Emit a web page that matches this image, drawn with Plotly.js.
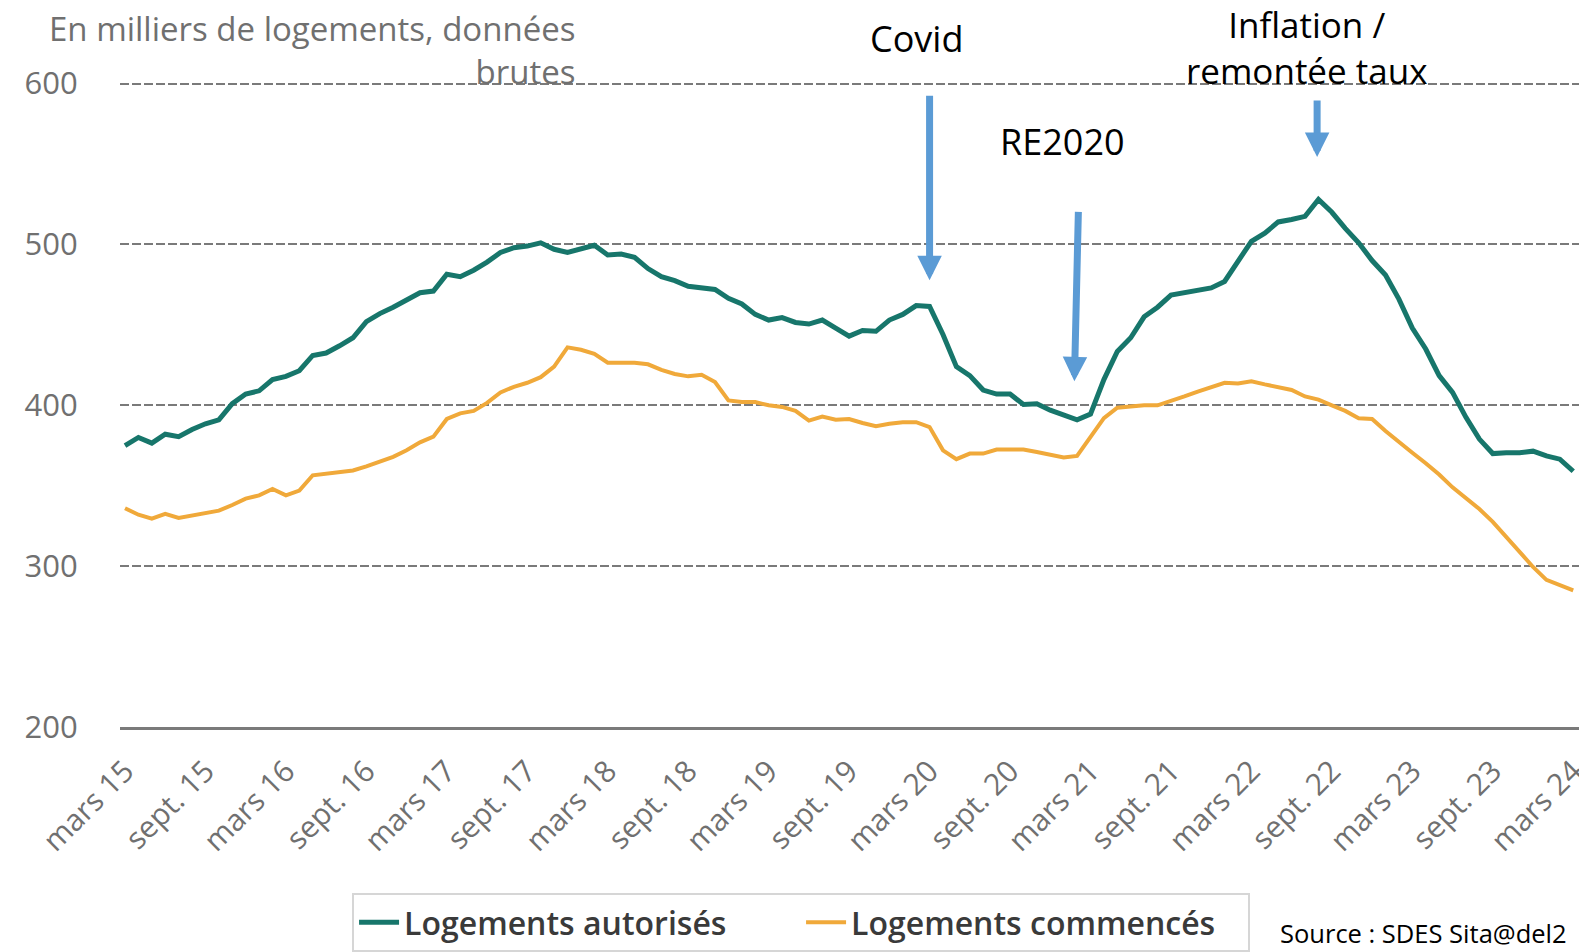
<!DOCTYPE html>
<html>
<head>
<meta charset="utf-8">
<script src="https://cdn.plot.ly/plotly-3.0.1.min.js"></script>
<style>
  html, body { margin: 0; padding: 0; background: #ffffff; }
  #chart { width: 1579px; height: 952px; }
</style>
</head>
<body>
<div id="chart"></div>
<script>
// ---- Data (en milliers de logements, cumul 12 mois, données brutes) ----
const monthNames = ['janv.', 'févr.', 'mars', 'avr.', 'mai', 'juin', 'juil.', 'août', 'sept.', 'oct.', 'nov.', 'déc.'];
const startYear = 2015;
const startMonth = 2; // mars
const nMonths = 109;  // mars 15 -> mars 24

const tickLabels = ['mars 15', 'sept. 15', 'mars 16', 'sept. 16', 'mars 17', 'sept. 17', 'mars 18', 'sept. 18',
  'mars 19', 'sept. 19', 'mars 20', 'sept. 20', 'mars 21', 'sept. 21', 'mars 22', 'sept. 22', 'mars 23',
  'sept. 23', 'mars 24'];

const autorises = [
  375, 380, 376.5, 382, 380.5, 385, 388.5, 391, 401, 407,
  409, 416, 418, 421.5, 431, 432.5, 437, 442, 452, 457,
  461, 465.5, 470, 471, 481.5, 480, 484, 489, 495, 498,
  499, 501, 497, 495, 497.5, 499.5, 493.5, 494, 492, 485,
  480, 477.5, 474, 473, 472, 466.5, 463, 456.5, 453, 454.5,
  451.5, 450.5, 453, 448, 443, 446.5, 446, 453, 456.5, 462,
  461.5, 444, 424, 418.5, 409.5, 407, 407, 400.5, 401, 397,
  394, 391, 394.5, 416, 433.5, 442, 455, 461, 468.5, 470,
  471, 473, 477, 489.5, 502, 507, 514, 515.5, 517.5, 528,
  520, 510, 501, 490, 481, 466, 448, 435, 418.5, 408,
  392.5, 379, 370, 370.5, 370.5, 371.5, 368.5, 366.5, 359
];

const commences = [
  336, 332, 329.5, 332.5, 330, 331.5, 333, 334.5, 338, 342,
  344, 348, 344, 347, 356.5, 357.5, 358, 359.5, 362, 365,
  368, 372, 377, 380.5, 391.5, 395, 396.5, 401.5, 408, 411.5,
  414, 417.5, 424, 436, 434.5, 432, 426.5, 426.5, 426.5, 425.5,
  422, 419.5, 418, 419, 414.5, 403, 402, 402, 400, 399,
  396.5, 390.5, 393, 391, 391.5, 389, 387, 388.5, 389.5, 389.5,
  386.5, 372, 366.5, 370, 370, 372.5, 372.5, 372.5, 371, 369.5,
  367.5, 368.5, 380, 392, 398.5, 399.5, 400, 400, 402.5, 405.5,
  408.5, 411.5, 414, 413.5, 415, 413, 411, 409.5, 405.5, 403.5,
  400, 396.5, 392, 391.5, 384, 377, 370.5, 364, 357, 349,
  342, 335.5, 327.5, 318, 309, 299.5, 291.5, 288, 285
];

const seriesNames = ['Logements autorisés', 'Logements commencés'];
const yTicks = [200, 300, 400, 500, 600];

// month categories ("mars 15", "avr. 15", ...)
const months = [];
for (let k = 0; k < nMonths; k++) {
  const m = (startMonth + k) % 12;
  const y = startYear + Math.floor((startMonth + k) / 12);
  months.push(monthNames[m] + ' ' + String(y).slice(2));
}

// ---- Styling ----
const TEAL = '#17766b';
const ORANGE = '#f0a93a';
const ARROW = '#5b9bd5';
const GREY_TXT = '#707070';
const FONT = '"Open Sans", "DejaVu Sans", sans-serif';

const traces = [
  { x: months, y: autorises, name: seriesNames[0], type: 'scatter', mode: 'lines',
    line: { color: TEAL, width: 5 }, hoverinfo: 'skip' },
  { x: months, y: commences, name: seriesNames[1], type: 'scatter', mode: 'lines',
    line: { color: ORANGE, width: 4 }, hoverinfo: 'skip' }
];

function arrow(xIdx, yVal, ax, ay) {
  return { x: xIdx, y: yVal, xref: 'x', yref: 'y', text: '', showarrow: true,
    arrowhead: 2, arrowsize: 0.7, arrowwidth: 7, arrowcolor: ARROW, ax: ax, ay: ay, standoff: 0 };
}

const annFont = { family: FONT, size: 36, color: '#000000' };

// plot area: x 120 -> 1579 px, y value 200 at 726.7 px, 1.608 px per unit
const layout = {
  width: 1579, height: 952,
  margin: { l: 120, r: 0, t: 82, b: 225, pad: 0 },
  paper_bgcolor: '#ffffff', plot_bgcolor: '#ffffff',
  font: { family: FONT, color: GREY_TXT },
  showlegend: true,
  legend: {
    orientation: 'h', x: 0.4668, xanchor: 'center', y: -0.2575, yanchor: 'top',
    bgcolor: '#ffffff', bordercolor: '#d6d6d6', borderwidth: 2,
    font: { family: FONT, size: 32, color: '#3a3a3a', weight: 600 },
    entrywidth: 392, entrywidthmode: 'pixels', itemwidth: 40
  },
  xaxis: {
    type: 'category', range: [-0.373, 108.43],
    tickmode: 'array', tickvals: tickLabels, ticktext: tickLabels,
    tickangle: -45, tickfont: { family: FONT, size: 30, color: GREY_TXT },
    ticks: 'outside', ticklen: 12, tickcolor: 'rgba(0,0,0,0)',
    showgrid: false, zeroline: false,
    showline: true, linecolor: '#7a7a7a', linewidth: 2.5,
    fixedrange: true
  },
  yaxis: {
    range: [200, 601], tickmode: 'array', tickvals: yTicks,
    tickfont: { family: FONT, size: 31, color: GREY_TXT },
    ticks: 'outside', ticklen: 35, tickcolor: 'rgba(0,0,0,0)',
    showgrid: true, gridcolor: '#7a7a7a', gridwidth: 2, griddash: '9px,3px',
    zeroline: false, showline: false, fixedrange: true
  },
  annotations: [
    { text: 'En milliers de logements, données<br>brutes', xref: 'paper', yref: 'paper',
      x: 0.3139, y: 1.05, xanchor: 'right', yanchor: 'middle', align: 'right', showarrow: false,
      font: { family: FONT, size: 33, color: GREY_TXT } },
    { text: 'Covid', xref: 'paper', yref: 'paper', x: 0.5456, y: 1.068,
      xanchor: 'center', yanchor: 'middle', showarrow: false, font: annFont },
    { text: 'RE2020', xref: 'paper', yref: 'paper', x: 0.6463, y: 0.9085,
      xanchor: 'center', yanchor: 'middle', showarrow: false, font: annFont },
    { text: 'Inflation /<br>remontée taux', xref: 'paper', yref: 'paper', x: 0.8129, y: 1.0535,
      xanchor: 'center', yanchor: 'middle', align: 'center', showarrow: false, borderpad: 0,
      font: { family: FONT, size: 35, color: '#000000' } },
    { text: 'Source : SDES Sita@del2', xref: 'paper', yref: 'paper', x: 0.7935, y: -0.319,
      xanchor: 'left', yanchor: 'middle', showarrow: false,
      font: { family: FONT, size: 25.5, color: '#000000' } },
    arrow(60, 477.8, 0, -186),
    arrow(70.8, 414.9, 4, -171),
    arrow(88.9, 554.3, 0, -58)
  ]
};

Plotly.newPlot('chart', traces, layout, { staticPlot: true, displayModeBar: false });
</script>
</body>
</html>
